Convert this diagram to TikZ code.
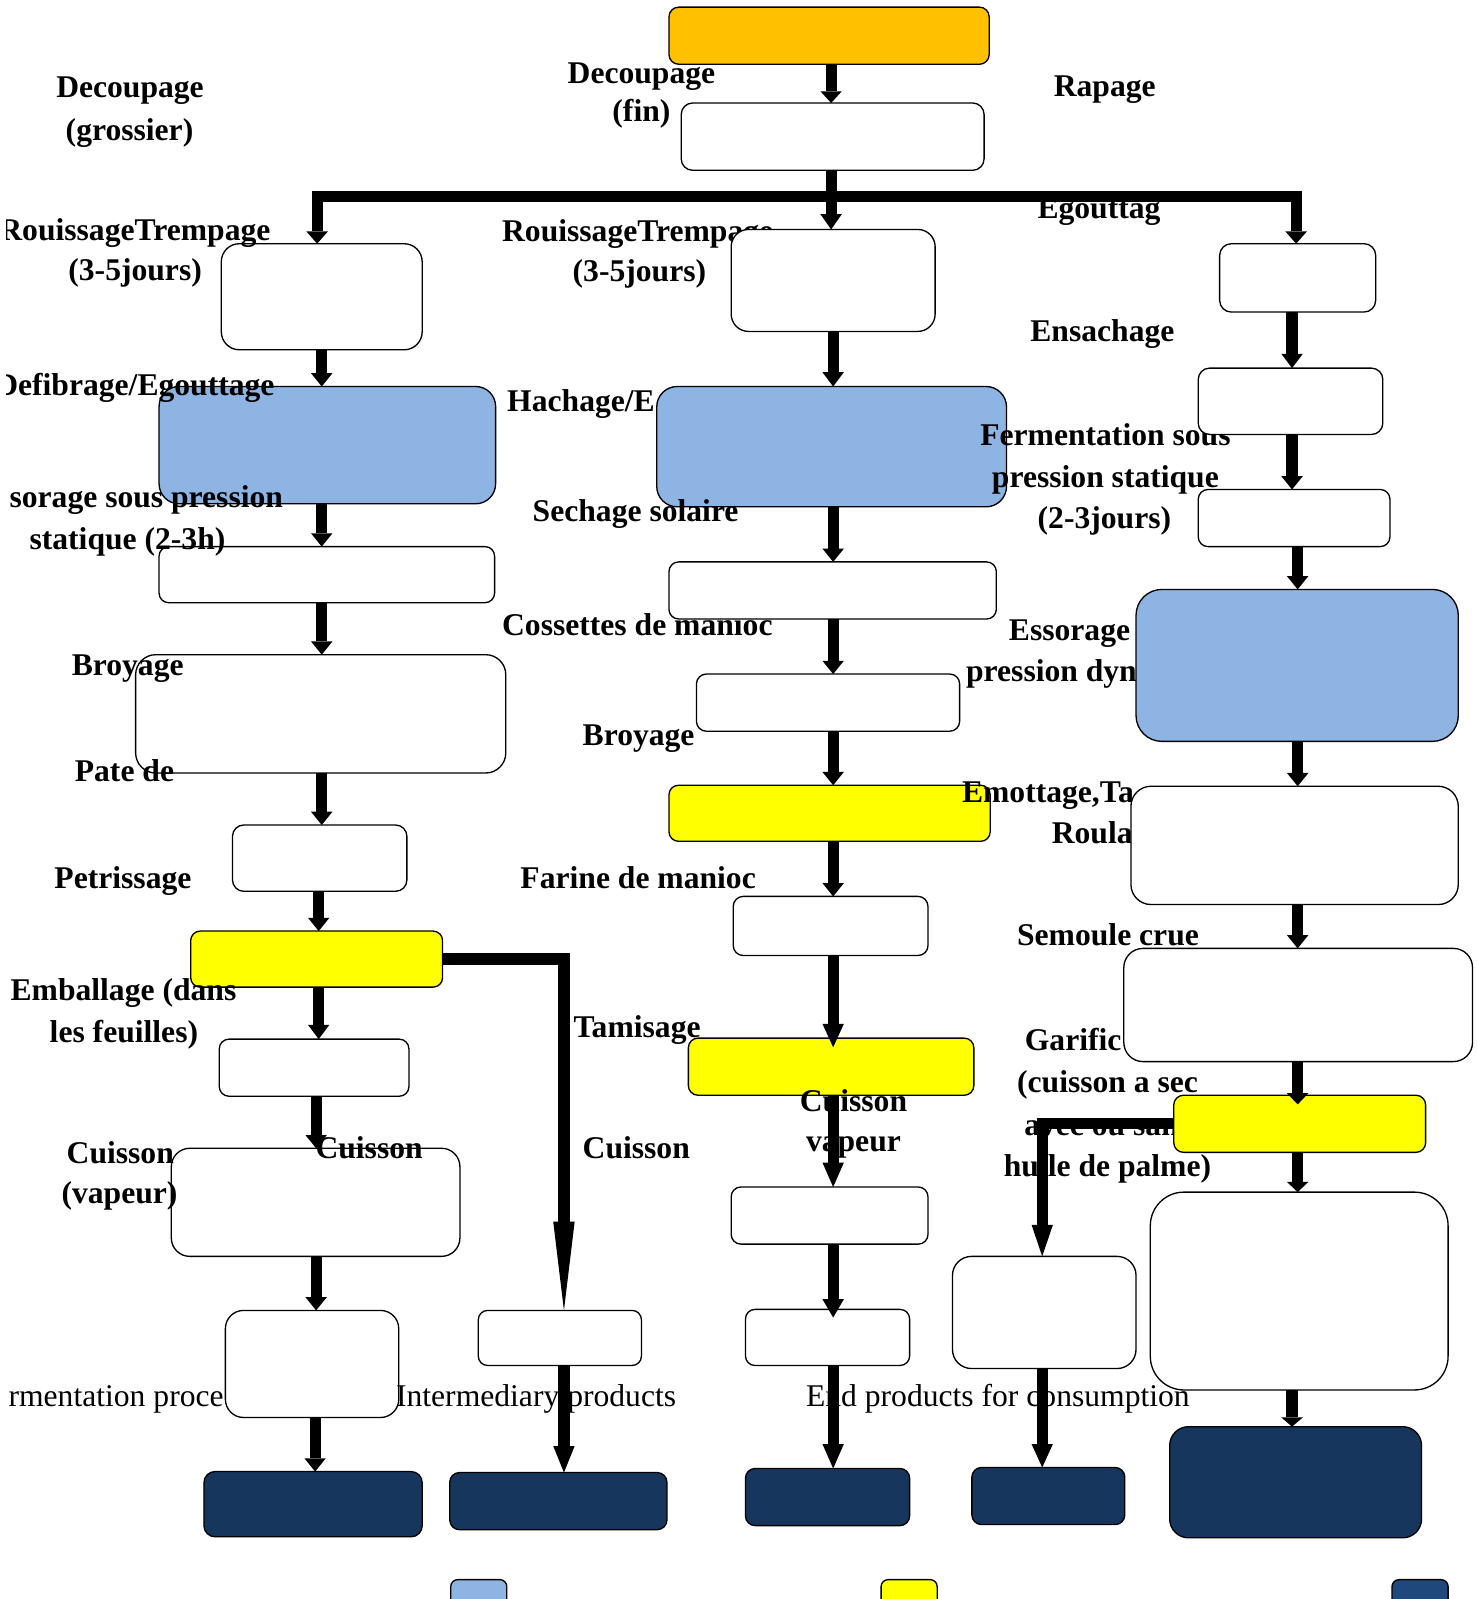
\documentclass[tikz,border=0pt]{standalone}
\usepackage{fontspec}
\setmainfont{Liberation Serif}
\usetikzlibrary{arrows.meta}

\definecolor{cassorange}{HTML}{FFC000}
\definecolor{stepblue}{HTML}{8EB4E3}
\definecolor{stepyellow}{HTML}{FFFF00}
\definecolor{prodnavy}{HTML}{17365D}
\definecolor{legnavy}{HTML}{1F497D}

\tikzset{
  rbx/.style={draw=black, line width=0.65pt, inner sep=0pt, outer sep=0pt},
  lb/.style={inner sep=0pt, anchor=base west, yshift=-1.25pt, font=\fontsize{15.5}{20}\selectfont\bfseries},
  lbc/.style={lb, anchor=base},
  lr/.style={inner sep=0pt, anchor=base west, yshift=-1.25pt, font=\fontsize{15.5}{20}\selectfont},
  flow/.style={line width=5.5pt, line join=miter, -{Triangle[width=10.5pt,length=#1,line width=0pt]}},
  flow/.default=6.5pt,
  barline/.style={line width=5.5pt, line cap=butt},
}

% rounded process box: name, x1, y1, x2, y2, fill
\newcommand\rbox[6]{%
  \node[rbx, fill=#6, minimum width={(#4-#2)*0.5pt}, minimum height={(#5-#3)*0.5pt},
        rounded corners={0.17*min(#4-#2,#5-#3)*0.5pt}] (#1) at ({(#2+#4)/2},{(#3+#5)/2}) {};}

\begin{document}
\begin{tikzpicture}[x=0.5pt, y=-0.5pt]
\useasboundingbox (0,0) rectangle (1449,1568);
\fill[white] (0,0) rectangle (1449,1568);
\clip (6,0) rectangle (1449,1568);

% column positions of the connectors
\coordinate (xT) at (815,0);
\coordinate (xM) at (817,0);
\coordinate (xL1) at (315.5,0);
\coordinate (xL2) at (312.5,0);
\coordinate (xL3) at (310,0);
\coordinate (xL4) at (309,0);
\coordinate (xB) at (553,0);
\coordinate (xR1) at (1267,0);
\coordinate (xR2) at (1272.5,0);
\coordinate (xC) at (1022,0);
\coordinate (xBarL) at (311,0);
\coordinate (xBarR) at (1271,0);
\coordinate (barL) at (305.5,193);
\coordinate (barR) at (1276.5,193);

% boxes lying under some of the labels
\rbox{M2}{644}{379}{987}{497}{stepblue}
\rbox{M5}{656}{770}{971}{825}{stepyellow}

% labels partly hidden by boxes
\node[lbc] (a1) at (629,79) {Decoupage};
\node[lbc] (a2) at (629,117) {(fin)};
\node[lb] (a3) at (492,234) {RouissageTrempage};
\node[lbc] (a4) at (627,274) {(3-5jours)};
\node[lb] (a5) at (497,401) {Hachage/E};
\node[lb] (a6) at (522,509) {Sechage solaire};
\node[lbc] (a7) at (1084,434) {Fermentation sous};
\node[lbc] (a8) at (1084,476) {pression statique};
\node[lbc] (a9) at (1083,516) {(2-3jours)};
\node[lb] (a10) at (492,621) {Cossettes de manioc};
\node[lb] (a11) at (989,626) {Essorage};
\node[lb] (a12) at (947,666) {pression dyn};
\node[lb] (a13) at (943,784) {Emottage,Ta};
\node[lb] (a14) at (1031,825) {Roula};
\node[lb] (a15) at (1004.6,1028) {Garific};
\node[lb] (a16) at (1004,1110.5) {avec ou sans};
\node[lr] (a17) at (8,1377) {rmentation proce};

% process boxes
\rbox{src}{656}{7}{970}{63}{cassorange}
\rbox{cut}{668}{101}{965}{167}{white}
\rbox{L1}{217}{239}{414}{343}{white}
\rbox{L2}{156}{379}{486}{494}{stepblue}
\rbox{L3}{156}{536}{485}{591}{white}
\rbox{L4}{133}{642}{496}{758}{white}
\rbox{L5}{228}{809}{399}{874}{white}
\rbox{L6}{187}{913}{434}{968}{stepyellow}
\rbox{L7}{215}{1019}{401}{1075}{white}
\rbox{L8}{168}{1126}{451}{1232}{white}
\rbox{L9}{221}{1285}{391}{1390}{white}
\rbox{L10}{200}{1443}{414}{1507}{prodnavy}
\rbox{BX1}{469}{1285}{629}{1339}{white}
\rbox{BX2}{441}{1444}{654}{1500}{prodnavy}
\rbox{M1}{717}{225}{917}{325}{white}
\rbox{M3}{656}{551}{977}{607}{white}
\rbox{M4}{683}{661}{941}{717}{white}
\rbox{M6}{719}{879}{910}{937}{white}
\rbox{M7}{675}{1018}{955}{1074}{stepyellow}
\rbox{M8}{717}{1164}{910}{1220}{white}
\rbox{M9}{731}{1284}{892}{1339}{white}
\rbox{M10}{731}{1440}{892}{1496}{prodnavy}
\rbox{R1}{1196}{239}{1349}{306}{white}
\rbox{R2}{1175}{361}{1356}{426}{white}
\rbox{R3}{1175}{480}{1363}{536}{white}
\rbox{R4}{1114}{578}{1430}{727}{stepblue}
\rbox{R5}{1109}{771}{1430}{887}{white}
\rbox{R6}{1102}{930}{1444}{1041}{white}
\rbox{R7}{1151}{1074}{1398}{1130}{stepyellow}
\rbox{R8}{1128}{1169}{1420}{1363}{white}
\rbox{R9}{1147}{1399}{1394}{1508}{prodnavy}
\rbox{CX1}{934}{1232}{1114}{1342}{white}
\rbox{CX2}{953}{1439}{1103}{1495}{prodnavy}

% legend swatches
\rbox{G1}{442}{1549}{497}{1589}{stepblue}
\rbox{G2}{864}{1549}{919}{1589}{stepyellow}
\rbox{G3}{1365}{1549}{1420}{1589}{legnavy}

% labels above the boxes
\node[lbc] (b1) at (127.5,93) {Decoupage};
\node[lbc] (b2) at (127,135) {(grossier)};
\node[lb] (b3) at (1033,92) {Rapage};
\node[lb] (b4) at (-1,233) {RouissageTrempage};
\node[lbc] (b5) at (132.5,273) {(3-5jours)};
\node[lb] (b6) at (1017,212) {Egouttag};
\node[lb] (b7) at (1010,332) {Ensachage};
\node[lb] (b8) at (-5,385) {Defibrage/Egouttage};
\node[lb] (b9) at (9,495) {sorage sous pression};
\node[lbc] (b10) at (125,536) {statique (2-3h)};
\node[lb] (b11) at (70,660) {Broyage};
\node[lb] (b12) at (571,729) {Broyage};
\node[lb] (b13) at (73,764) {Pate de};
\node[lb] (b14) at (53,869) {Petrissage};
\node[lb] (b15) at (510,869) {Farine de manioc};
\node[lb] (b16) at (997,925) {Semoule crue};
\node[lb] (b17) at (10,979) {Emballage (dans};
\node[lbc] (b18) at (121.5,1020) {les feuilles)};
\node[lb] (b19) at (562,1015) {Tamisage};
\node[lb] (b20) at (997,1069) {(cuisson a sec};
\node[lb] (b21) at (984,1151) {huile de palme)};
\node[lb] (b22) at (65,1138) {Cuisson};
\node[lb] (b23) at (60,1178) {(vapeur)};
\node[lb] (b24) at (309,1134) {Cuisson};
\node[lb] (b25) at (571,1134) {Cuisson};
\node[lb] (b26) at (784,1087) {Cuisson};
\node[lb] (b27) at (790,1127) {vapeur};
\node[lr] (b28) at (388,1377) {Intermediary products};
\node[lr] (b29) at (790,1377) {End products for consumption};

% connectors
\draw[flow=5.75pt] (src.south -| xT) -- (cut.north -| xT);
\draw[flow=7.5pt] (cut.south -| xT) -- (M1.north -| xT);
\draw[barline] (barL) -- (barR);
\draw[flow=6pt] (barL -| xBarL) -- (L1.north -| xBarL);
\draw[flow=6pt] (barR -| xBarR) -- (R1.north -| xBarR);

\draw[flow] (L1.south -| xL1) -- (L2.north -| xL1);
\draw[flow] (L2.south -| xL1) -- (L3.north -| xL1);
\draw[flow] (L3.south -| xL1) -- (L4.north -| xL1);
\draw[flow] (L4.south -| xL1) -- (L5.north -| xL1);
\draw[flow] (L5.south -| xL2) -- (L6.north -| xL2);
\draw[flow=7pt] (L6.south -| xL2) -- (L7.north -| xL2);
\draw[flow] (L7.south -| xL3) -- (L8.north -| xL3);
\draw[flow] (L8.south -| xL3) -- (L9.north -| xL3);
\draw[flow] (L9.south -| xL4) -- (L10.north -| xL4);
\draw[flow=43.5pt] (L6.east) -- (L6.east -| xB) -- (BX1.north -| xB);
\draw[flow=13pt] (BX1.south -| xB) -- (BX2.north -| xB);

\draw[flow=7pt] (M1.south -| xM) -- (M2.north -| xM);
\draw[flow] (M2.south -| xM) -- (M3.north -| xM);
\draw[flow] (M3.south -| xM) -- (M4.north -| xM);
\draw[flow] (M4.south -| xM) -- (M5.north -| xM);
\draw[flow] (M5.south -| xM) -- (M6.north -| xM);
\draw[flow=11.5pt, shorten >=-4.5pt] (M6.south -| xM) -- (M7.north -| xM);
\draw[flow=12pt] (M7.south -| xM) -- (M8.north -| xM);
\draw[flow=9pt, shorten >=-4pt] (M8.south -| xM) -- (M9.north -| xM);
\draw[flow=12pt] (M9.south -| xM) -- (M10.north -| xM);

\draw[flow=7pt] (R1.south -| xR1) -- (R2.north -| xR1);
\draw[flow] (R2.south -| xR1) -- (R3.north -| xR1);
\draw[flow] (R3.south -| xR2) -- (R4.north -| xR2);
\draw[flow] (R4.south -| xR2) -- (R5.north -| xR2);
\draw[flow] (R5.south -| xR2) -- (R6.north -| xR2);
\draw[flow=5.5pt, shorten >=-4.5pt] (R6.south -| xR2) -- (R7.north -| xR2);
\draw[flow=5pt] (R7.south -| xR2) -- (R8.north -| xR2);
\draw[flow=4.5pt] (R8.south -| xR1) -- (R9.north -| xR1);
\draw[flow=15.5pt] (R7.west) -- (R7.west -| xC) -- (CX1.north -| xC);
\draw[flow=11.5pt] (CX1.south -| xC) -- (CX2.north -| xC);
\end{tikzpicture}
\end{document}
